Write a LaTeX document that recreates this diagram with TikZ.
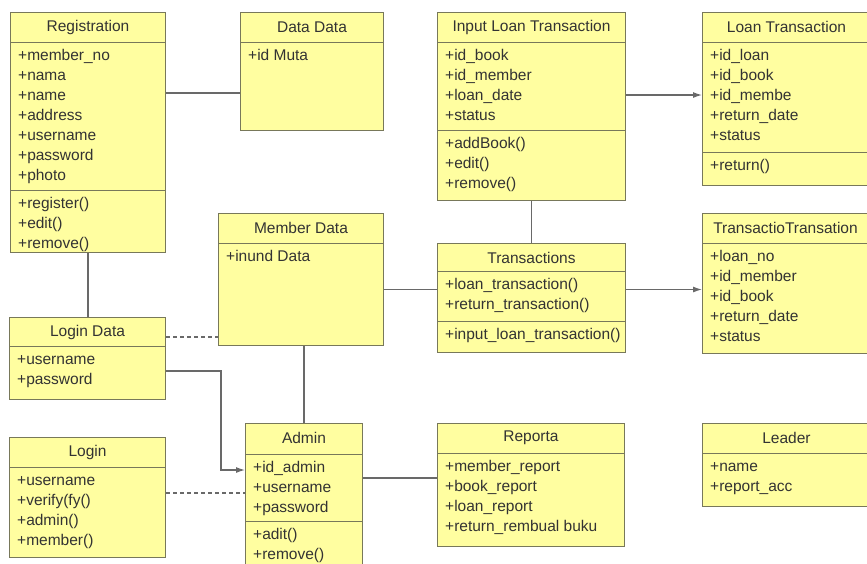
\documentclass[tikz,border=0pt]{standalone}
\usepackage{fontspec}
\setmainfont{Liberation Sans}
\usetikzlibrary{calc,positioning,arrows.meta}

\definecolor{classfill}{RGB}{255,254,160}
\definecolor{classline}{RGB}{120,120,90}
\definecolor{linkgray}{RGB}{105,105,105}

\tikzset{
  classbox/.style={draw=classline, fill=classfill, line width=1pt, anchor=north west, inner sep=0pt},
  classname/.style={font=\fontsize{15.5}{20}\selectfont, text=black!80, inner sep=0pt},
  member/.style={font=\fontsize{15.5}{20}\selectfont, text=black!80, anchor=base west, inner sep=0pt},
  sep/.style={draw=classline, line width=1pt},
  assoc/.style={draw=linkgray, line width=1.2pt},
  dep/.style={assoc, dash pattern=on 4pt off 3pt},
  toward/.style={assoc, -{Latex[length=9pt,width=6pt]}},
}

% class box: name, top left corner, width, height, title
\newcommand{\umlclass}[5]{%
  \node[classbox, minimum width=#3pt, minimum height=#4pt] (#1) at #2 {};
  \node[classname] (#1-name) at ($(#1.north)+(0,15)$) {#5};
}
% compartment: class, offset of its line from the top, entries
\newcommand{\umlpart}[3]{%
  \draw[sep] ($(#1.north west)+(0,#2)$) -- ($(#1.north east)+(0,#2)$);
  \foreach \m [count=\i] in {#3}
    \node[member] (#1-#2-\i) at ($(#1.north west)+(8,#2+\i*20-2)$) {+\m};
}

\begin{document}
\begin{tikzpicture}[x=1pt, y=-1pt]
  \useasboundingbox[fill=white] (0,0) rectangle (867,563);

  % left column
  \umlclass{reg}{(10,12)}{155}{240}{Registration}
  \umlpart{reg}{30}{member\_no, nama, name, address, username, password, photo}
  \umlpart{reg}{178}{register(), edit(), remove()}

  \umlclass{logdata}{(9,317)}{156}{82}{Login Data}
  \umlpart{logdata}{29}{username, password}

  \umlclass{login}{(9,437)}{156}{120}{Login}
  \umlpart{login}{30}{username, verify(fy(), admin(), member()}

  % middle column
  \umlclass{datadata}{(240,12)}{143}{118}{Data Data}
  \umlpart{datadata}{30}{id Muta}

  \umlclass{member}{(218,213)}{165}{132}{Member Data}
  \umlpart{member}{30}{inund Data}

  \umlclass{admin}{(245,423)}{117}{150}{Admin}
  \umlpart{admin}{31}{id\_admin, username, password}
  \umlpart{admin}{98}{adit(), remove()}

  % right middle column
  \umlclass{inloan}{(437,12)}{188}{188}{Input Loan Transaction}
  \umlpart{inloan}{30}{id\_book, id\_member, loan\_date, status}
  \umlpart{inloan}{118}{addBook(), edit(), remove()}

  \umlclass{trans}{(437,243)}{188}{109}{Transactions}
  \umlpart{trans}{28}{loan\_transaction(), return\_transaction()}
  \umlpart{trans}{78}{input\_loan\_transaction()}

  \umlclass{report}{(437,423)}{187}{123}{Reporta}
  \umlpart{report}{30}{member\_report, book\_report, loan\_report, return\_rembual buku}

  % right column
  \umlclass{loan}{(702,12)}{168}{173}{Loan Transaction}
  \umlpart{loan}{30}{id\_loan, id\_book, id\_membe, return\_date, status}
  \umlpart{loan}{140}{return()}

  \umlclass{ttrans}{(702,213)}{166}{140}{TransactioTransation}
  \umlpart{ttrans}{30}{loan\_no, id\_member, id\_book, return\_date, status}

  \umlclass{leader}{(702,423)}{168}{83}{Leader}
  \umlpart{leader}{30}{name, report\_acc}

  % connectors
  \draw[assoc] ($(reg.north east)+(0,81)$) coordinate (reg-out) -- (reg-out -| datadata.west);
  \draw[assoc] (reg.south) -- (reg.south |- logdata.north);
  \draw[dep] ($(logdata.north east)+(0,20)$) coordinate (ld-dash) -- (ld-dash -| member.west);
  \draw[toward] ($(logdata.north east)+(0,54)$) -- ++(55,0) |- ($(admin.north west)+(0,47)$);
  \draw[dep] ($(login.north east)+(0,56)$) coordinate (lg-out) -- (lg-out -| admin.west);
  \draw[assoc] (admin.north) -- (admin.north |- member.south);
  \draw[assoc] ($(admin.north east)+(0,55)$) coordinate (ad-out) -- (ad-out -| report.west);
  \draw[assoc] (member.east |- trans.west) ++(0,-8.5) coordinate (mb-out) -- (mb-out -| trans.west);
  \draw[toward] (mb-out -| trans.east) -- (mb-out -| ttrans.west);
  \draw[assoc] (inloan.south) -- (trans.north);
  \draw[toward] ($(inloan.north east)+(0,83)$) coordinate (il-out) -- (il-out -| loan.west);
\end{tikzpicture}
\end{document}
